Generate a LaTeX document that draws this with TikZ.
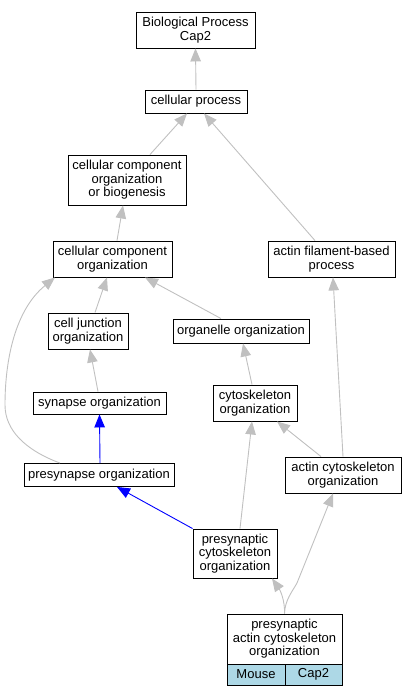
\documentclass[tikz,border=0pt]{standalone}
\usepackage{fontspec}
\setmainfont{Liberation Sans}
\usetikzlibrary{arrows.meta}
\definecolor{edgegray}{HTML}{C0C0C0}
\definecolor{cellblue}{HTML}{ADD8E6}
\tikzstyle{term node} = [draw, line width=0.9pt, fill=white, align=center, inner sep=0pt]
\tikzstyle{cell node} = [draw, line width=0.9pt, fill=cellblue, inner sep=0pt, minimum height=21]
\tikzstyle{isa}       = [draw=edgegray, line width=0.9pt, -{Triangle[length=13pt,width=10.5pt]}]
\tikzstyle{isa blue}  = [draw=blue, line width=0.9pt, -{Triangle[length=13pt,width=10.5pt]}]

\begin{document}
\begin{tikzpicture}[x=1pt, y=-1pt,
                    font=\fontsize{13}{13.5}\selectfont
                    ]
\useasboundingbox (0,0) rectangle (418,696);

    % terms
    \node(bp)  [term node, minimum width=119, minimum height=36] at (195.5,30)  {Biological Process\\Cap2};
    \node(cp)  [term node, minimum width=102, minimum height=23] at (196,101.5) {cellular process};
    \node(ccob)[term node, minimum width=118, minimum height=50] at (127,180)   {cellular component\\organization\\or biogenesis};
    \node(cco) [term node, minimum width=119, minimum height=36] at (112.5,259) {cellular component\\organization};
    \node(afp) [term node, minimum width=127, minimum height=36] at (331.5,259) {actin filament-based\\process};
    \node(cjo) [term node, minimum width=80,  minimum height=36] at (88,331)    {cell junction\\organization};
    \node(oo)  [term node, minimum width=136, minimum height=24] at (241,331)   {organelle organization};
    \node(so)  [term node, minimum width=133, minimum height=22] at (99.5,403)  {synapse organization};
    \node(co)  [term node, minimum width=84,  minimum height=36] at (255,403)   {cytoskeleton\\organization};
    \node(po)  [term node, minimum width=150, minimum height=23] at (99,475)    {presynapse organization};
    \node(aco) [term node, minimum width=116, minimum height=36] at (343,475)   {actin cytoskeleton\\organization};
    \node(pco) [term node, minimum width=84,  minimum height=49] at (235,553.5) {presynaptic\\cytoskeleton\\organization};
    \node(paco)[term node, minimum width=115, minimum height=50] at (284.5,639) {presynaptic\\actin cytoskeleton\\organization};
    \node(mouse)[cell node, minimum width=58] at (256,674.5)   {Mouse};
    \node(gene) [cell node, minimum width=57] at (313.5,674.5) {Cap2};

    % is_a edges
    \draw[isa] (cp.north) -- (bp.south);
    \draw[isa] ([xshift=23]ccob.north) -- ([xshift=-9]cp.south);
    \draw[isa] ([xshift=-16.5]afp.north) -- ([xshift=8]cp.south);
    \draw[isa] ([xshift=4.5]cco.north) -- ([xshift=-4]ccob.south);
    \draw[isa] ([xshift=7]cjo.north) -- ([xshift=-5.5]cco.south);
    \draw[isa] ([xshift=-20]oo.north) -- ([xshift=32.5]cco.south);
    \draw[isa] ([xshift=-39]po.north) .. controls (25,450) and (5,430) .. (5,405)
                                      .. controls (5,360) and (15,310) .. ([xshift=-57.5]cco.south);
    \draw[isa] ([xshift=-1.5]so.north) -- ([xshift=2]cjo.south);
    \draw[isa] ([xshift=-3]co.north) -- ([xshift=2]oo.south);
    \draw[isa] (aco.north) -- ([xshift=1.5]afp.south);
    \draw[isa] ([xshift=-22]aco.north) -- ([xshift=22]co.south);
    \draw[isa] ([xshift=5]pco.north) -- ([xshift=-3]co.south);
    \draw[isa] (paco.north) .. controls (285,600) and (280,590) .. ([xshift=37]pco.south);
    \draw[isa] (paco.north) .. controls (285,600) and (292,592) .. (297,583) -- ([xshift=-10]aco.south);

    % part_of edges
    \draw[isa blue] ([xshift=1]po.north) -- (so.south);
    \draw[isa blue] (pco.north west) -- ([xshift=18]po.south);

\end{tikzpicture}
\end{document}
